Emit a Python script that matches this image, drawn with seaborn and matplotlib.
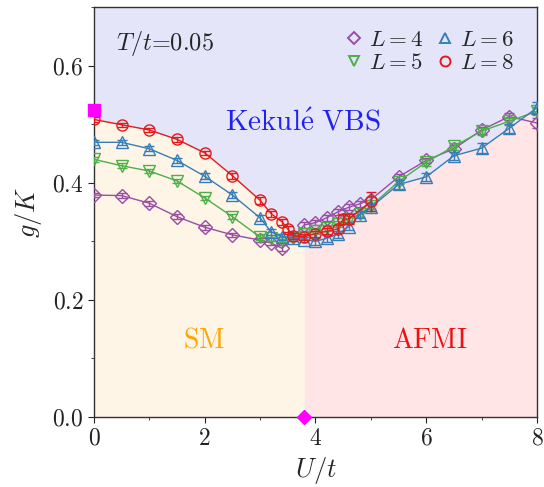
import matplotlib
matplotlib.use("Agg")
import matplotlib.pyplot as plt
from matplotlib.lines import Line2D
from matplotlib.ticker import MultipleLocator
import seaborn as sns

# data
u4 = [0, 0.5, 1, 1.5, 2, 2.5, 3, 3.2, 3.4, 3.8, 4.0, 4.2, 4.4, 4.6, 4.8, 5.0, 5.5, 6, 6.5, 7, 7.5, 8]
g4 = [0.379, 0.378, 0.365, 0.342, 0.324, 0.311, 0.302, 0.297, 0.288, 0.328, 0.332, 0.340, 0.350,
      0.358, 0.364, 0.371, 0.410, 0.438, 0.458, 0.490, 0.513, 0.502]
e4 = [0.004, 0.004, 0.004, 0.004, 0.004, 0.004, 0.004, 0.004, 0.005, 0.005, 0.005, 0.005, 0.005,
      0.005, 0.005, 0.005, 0.005, 0.005, 0.006, 0.006, 0.006, 0.008]

u5 = [0, 0.5, 1, 1.5, 2, 2.5, 3, 3.2, 3.4, 3.6, 3.8, 4.0, 4.2, 4.4, 4.6, 4.8, 5.0, 5.5, 6, 6.5, 7, 7.5, 8]
g5 = [0.440, 0.429, 0.420, 0.403, 0.374, 0.342, 0.307, 0.306, 0.303, 0.305, 0.312, 0.317, 0.322,
      0.330, 0.338, 0.346, 0.360, 0.402, 0.435, 0.462, 0.488, 0.505, 0.522]
e5 = [0.004, 0.004, 0.004, 0.004, 0.004, 0.004, 0.005, 0.005, 0.005, 0.005, 0.005, 0.005, 0.005,
      0.005, 0.005, 0.005, 0.005, 0.005, 0.006, 0.006, 0.006, 0.006, 0.007]

u6 = [0, 0.5, 1, 1.5, 2, 2.5, 3, 3.2, 3.4, 3.6, 3.8, 4.0, 4.2, 4.4, 4.6, 4.8, 5.0, 5.5, 6, 6.5, 7, 7.5, 8]
g6 = [0.469, 0.469, 0.458, 0.438, 0.411, 0.379, 0.340, 0.316, 0.308, 0.306, 0.303, 0.300, 0.305,
      0.312, 0.325, 0.345, 0.358, 0.397, 0.410, 0.446, 0.459, 0.493, 0.528]
e6 = [0.004, 0.004, 0.004, 0.004, 0.005, 0.005, 0.005, 0.005, 0.005, 0.005, 0.005, 0.006, 0.006,
      0.006, 0.006, 0.006, 0.006, 0.007, 0.007, 0.007, 0.008, 0.008, 0.009]

u8 = [0, 0.5, 1, 1.5, 2, 2.5, 3, 3.2, 3.4, 3.5, 3.6, 3.8, 4.0, 4.2, 4.4, 4.5, 4.6, 5.0]
g8 = [0.508, 0.499, 0.490, 0.474, 0.451, 0.412, 0.370, 0.347, 0.333, 0.321, 0.309, 0.308, 0.313,
      0.317, 0.321, 0.338, 0.338, 0.368]
e8 = [0.004, 0.003, 0.003, 0.004, 0.004, 0.005, 0.006, 0.005, 0.005, 0.005, 0.005, 0.005, 0.005,
      0.005, 0.006, 0.008, 0.008, 0.016]

# phase boundaries
sm_u = [0, 0.5, 1, 1.5, 2, 2.5, 3, 3.2, 3.4, 3.5, 3.6, 3.8]
sm_g = [0.508, 0.499, 0.490, 0.474, 0.451, 0.412, 0.370, 0.347, 0.333, 0.321, 0.309, 0.306]
af_u = [3.8, 4.0, 4.2, 4.4, 4.6, 4.8, 5.0, 5.5, 6, 6.5, 7, 7.5, 8]
af_g = [0.303, 0.300, 0.305, 0.312, 0.325, 0.345, 0.358, 0.397, 0.410, 0.446, 0.459, 0.493, 0.528]

gc_point = (0, 0.525)
uc_point = (3.8, 0.0)

series = [
    (r"$L=4$", u4, g4, e4, "#984ea3", "D", 7),
    (r"$L=5$", u5, g5, e5, "#4daf4a", "v", 8.5),
    (r"$L=6$", u6, g6, e6, "#377eb8", "^", 8.5),
    (r"$L=8$", u8, g8, e8, "#e41a1c", "o", 8),
]

sns.set_style("ticks")
plt.rcParams["font.family"] = "serif"
plt.rcParams["font.serif"] = ["cmr10", "DejaVu Serif"]
plt.rcParams["mathtext.fontset"] = "cm"
plt.rcParams["axes.formatter.use_mathtext"] = True

fig = plt.figure(figsize=(5.44, 4.87), dpi=100)
ax = fig.add_axes([0.1728, 0.1437, 0.8142, 0.8419])

ax.set_facecolor("#e5e5fa")
ax.fill_between(sm_u, 0, sm_g, color="#fff5e6", lw=0, zorder=0)
ax.fill_between(af_u, 0, af_g, color="#ffe5e5", lw=0, zorder=0)

for lab, u, g, e, c, m, ms in series:
    sns.lineplot(x=u, y=g, color=c, marker=m, markersize=ms, mfc="none", mec=c, mew=1.0,
                 lw=1.0, ax=ax, zorder=3)
    ax.errorbar(u, g, yerr=e, fmt="none", ecolor=c, elinewidth=1.0, capsize=3.5, zorder=3)

ax.plot(*gc_point, marker="s", color="magenta", ms=8, clip_on=False, zorder=5)
ax.plot(*uc_point, marker="D", color="magenta", ms=7, clip_on=False, zorder=5)

ax.set_xlim(0, 8)
ax.set_ylim(0, 0.7)
ax.xaxis.set_major_locator(MultipleLocator(2))
ax.xaxis.set_minor_locator(MultipleLocator(1))
ax.yaxis.set_major_locator(MultipleLocator(0.2))
ax.yaxis.set_minor_locator(MultipleLocator(0.1))
ax.tick_params(which="both", direction="out", labelsize=17, colors="#222222")
ax.tick_params(which="major", length=4)
ax.tick_params(which="minor", length=2.5)
ax.set_xlabel(r"$U/t$", fontsize=19, labelpad=4)
ax.set_ylabel(r"$g/K$", fontsize=19, labelpad=6)
for s in ax.spines.values():
    s.set_linewidth(1.0)
    s.set_color("#333333")

ax.text(0.05, 0.895, r"$T/t$=0.05", transform=ax.transAxes, fontsize=17.5)
ax.text(3.78, 0.49, r"$\mathrm{Kekul\acute{e}\ VBS}$", color="#2222ee", fontsize=21, ha="center")
ax.text(1.99, 0.118, r"$\mathrm{SM}$", color="#ffa500", fontsize=20, ha="center")
ax.text(6.06, 0.118, r"$\mathrm{AFMI}$", color="#ee1111", fontsize=20, ha="center")

handles = [Line2D([], [], ls="none", marker=m, ms=ms * 0.9, mfc="none", mec=c, mew=1.4)
           for lab, u, g, e, c, m, ms in series]
labels = [s[0] for s in series]
ax.legend(handles, labels, ncol=2, loc="upper right",
          frameon=False, fontsize=16.5, handlelength=0.7, handletextpad=0.3, columnspacing=0.6,
          labelspacing=0.15, borderaxespad=0.6)

fig.savefig("out.png", dpi=100)
